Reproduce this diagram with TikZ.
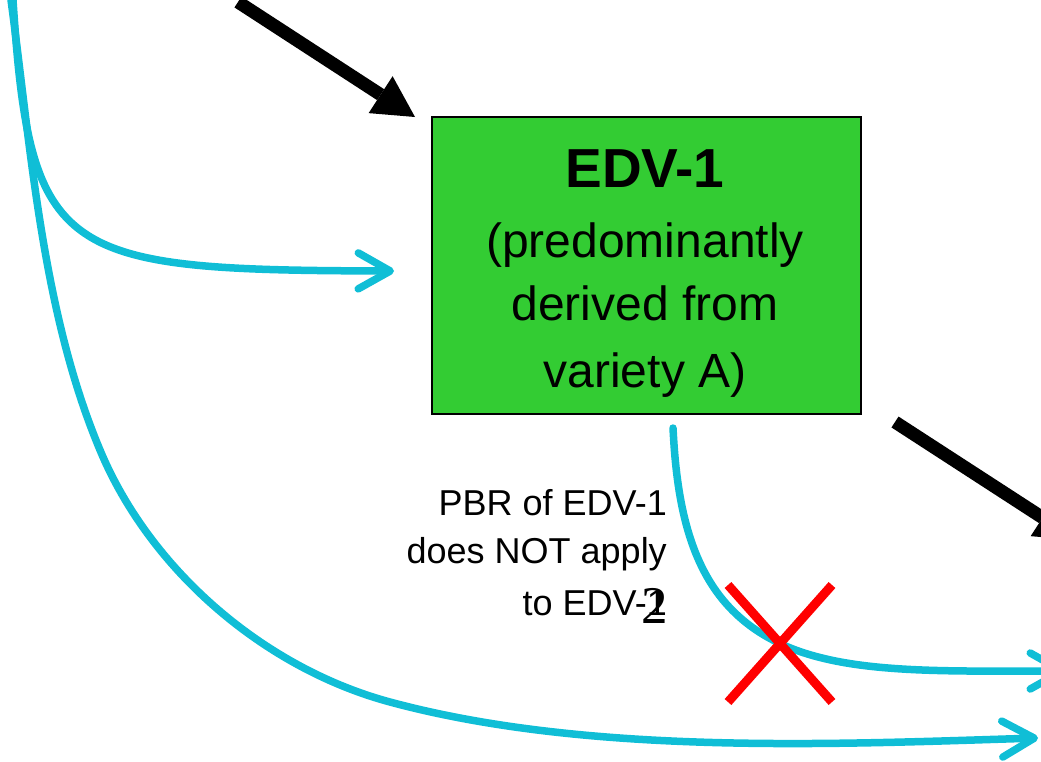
\documentclass[tikz,border=0pt]{standalone}
\usepackage{fontspec}
\setmainfont{Liberation Sans}
\newfontfamily\serifnum{Liberation Serif}
\usetikzlibrary{arrows.meta}
\definecolor{flowcyan}{RGB}{16,190,214}
\definecolor{boxgreen}{RGB}{51,204,51}
\begin{document}
\begin{tikzpicture}[x=1pt,y=-1pt,
  flow/.style={draw=flowcyan, line width=7.5pt, line cap=round, -{Straight Barb[length=32pt,width=36pt,round]}},
  bigarrow/.style={draw=black, line width=13pt, -{Triangle[length=41pt,width=44pt,line width=0pt]}},
  crossline/.style={draw=red, line width=9pt},
  edvbox/.style={draw=black, line width=1.5pt, fill=boxgreen, minimum width=429pt, minimum height=297pt, inner sep=0pt},
  boxtxt/.style={anchor=base, inner sep=0pt, font=\fontsize{48}{48}\selectfont},
  notetxt/.style={anchor=base east, inner sep=0pt, font=\fontsize{36}{36}\selectfont}]
\useasboundingbox (0,0) rectangle (1041,761);
\clip (0,0) rectangle (1041,761);

% green box
\node[edvbox] (edv) at (646.5,265.5) {};
\node[boxtxt, font=\fontsize{55}{55}\selectfont\bfseries] (t1) at (645,187) {EDV-1};
\node[boxtxt] (t2) at (645,257) {(predominantly};
\node[boxtxt] (t3) at (645,320) {derived from};
\node[boxtxt] (t4) at (645,387) {variety A)};

% cyan flows
\coordinate (a0) at (13,0);
\coordinate (a1) at (394,271);
\draw[flow] (a0) .. controls (30,260) and (60,270) .. (a1);

\coordinate (b0) at (11,0);
\coordinate (b1) at (100,450);
\coordinate (b2) at (390,702);
\coordinate (b3) at (1038,738);
\draw[flow] (b0) .. controls (31,149) and (42,312) .. (b1)
  .. controls (150,570) and (264,668) .. (b2)
  .. controls (590,756) and (840,744) .. (b3);

\coordinate (c0) at (673,428);
\coordinate (c1) at (723,600);
\coordinate (c2) at (1066,671);
\draw[flow] (c0) .. controls (676,488) and (685,554) .. (c1)
  .. controls (787,677) and (900,671) .. (c2);

% black arrows
\coordinate (k0) at (238,2);
\coordinate (k1) at (415,117);
\draw[bigarrow] (k0) -- (k1);
\coordinate (m0) at (895,422);
\coordinate (m1) at (1077,540);
\draw[bigarrow] (m0) -- (m1);

% red cross
\coordinate (x1) at (728,585);
\coordinate (x2) at (832,702);
\coordinate (x3) at (832,585);
\coordinate (x4) at (728,702);
\draw[crossline] (x1) -- (x2);
\draw[crossline] (x3) -- (x4);

% note
\node[notetxt] (p1) at (667,515) {PBR of EDV-1};
\node[notetxt] (p2) at (667,563) {does NOT apply};
\node[notetxt] (p3) at (667,615) {to EDV-1};
\node[anchor=base, inner sep=0pt, font=\serifnum\fontsize{53}{53}\selectfont] (two) at (655,623) {2};
\end{tikzpicture}
\end{document}
